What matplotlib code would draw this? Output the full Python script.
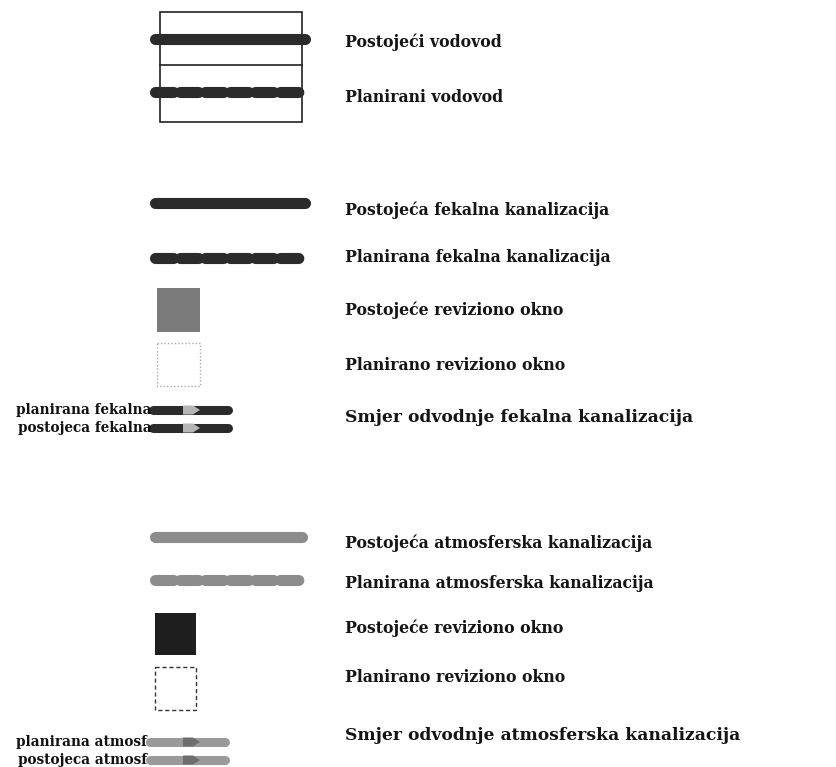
import matplotlib.pyplot as plt
from matplotlib.patches import Rectangle, Polygon

# legend texts
vodovod_labels = ['Postojeći vodovod', 'Planirani vodovod']
fekalna_labels = ['Postojeća fekalna kanalizacija', 'Planirana fekalna kanalizacija',
                  'Postojeće reviziono okno', 'Planirano reviziono okno',
                  'Smjer odvodnje fekalna kanalizacija']
atmosf_labels = ['Postojeća atmosferska kanalizacija', 'Planirana atmosferska kanalizacija',
                 'Postojeće reviziono okno', 'Planirano reviziono okno',
                 'Smjer odvodnje atmosferska kanalizacija']
fekalna_small = ['planirana fekalna', 'postojeca fekalna']
atmosf_small = ['planirana atmosf', 'postojeca atmosf']

DARK = '#2b2b2b'
GREY = '#7a7a7a'
LGREY = '#8c8c8c'

fig = plt.figure(figsize=(8.36, 7.67), dpi=100, facecolor='white')
ax = fig.add_axes([0, 0, 1, 1])
ax.set_xlim(0, 836)
ax.set_ylim(767, 0)
ax.axis('off')

font = dict(family='DejaVu Serif', fontsize=11.3, fontweight='bold', color='#151515',
            va='center', ha='left')
small = dict(family='DejaVu Serif', fontsize=9.8, fontweight='bold', color='#111111',
             va='center', ha='right')


def pipe(y, color, dashed=False, x0=157, x1=302):
    kw = dict(color=color, lw=8, solid_capstyle='round', dash_capstyle='round')
    if dashed:
        kw['linestyle'] = (0, (1.65, 0.6))
    ax.plot([x0, x1], [y, y], **kw)


def arrow_bar(y, color, arrow_color, x0=153, x1=228):
    ax.plot([x0, x1], [y, y], color=color, lw=6.5, solid_capstyle='round', zorder=2)
    ax.add_patch(Polygon([(183, y - 4.5), (193, y - 4.5), (200, y), (193, y + 4.5), (183, y + 4.5)],
                         closed=True, color=arrow_color, lw=0, zorder=3))


# vodovod
ax.add_patch(Rectangle((160, 12), 142, 110, fill=False, ec='#222222', lw=1.2))
ax.plot([160, 302], [65, 65], color='#222222', lw=1.2)
pipe(39, DARK, x0=155, x1=305)
pipe(92, DARK, dashed=True, x0=155, x1=305)
for y, t in zip([42, 97], vodovod_labels):
    ax.text(345, y, t, **font)

# fekalna
pipe(203, DARK, x0=155, x1=305)
pipe(258, DARK, dashed=True, x0=155, x1=305)
ax.add_patch(Rectangle((157, 288), 43, 44, color=GREY, lw=0))
ax.add_patch(Rectangle((157, 343), 43, 43, fill=False, ec='#aaaaaa', lw=1, ls=(0, (1, 1.5))))
arrow_bar(410, DARK, '#b5b5b5')
arrow_bar(428, DARK, '#b5b5b5')
for y, t in zip([210, 258, 310, 365, 418], fekalna_labels):
    ax.text(345, y, t, **dict(font, fontsize=12.3) if t.startswith('Smjer') else font)
for y, t in zip([410, 428], fekalna_small):
    ax.text(152, y, t, **small)

# atmosferska
pipe(537, LGREY, x0=155, x1=302)
pipe(580, LGREY, dashed=True, x0=155, x1=302)
ax.add_patch(Rectangle((155, 613), 41, 42, color='#1e1e1e', lw=0))
ax.add_patch(Rectangle((155, 667), 41, 43, fill=False, ec='#333333', lw=1, ls=(0, (3, 2))))
arrow_bar(742, '#9a9a9a', '#6e6e6e', x0=150, x1=225)
arrow_bar(760, '#9a9a9a', '#6e6e6e', x0=150, x1=225)
for y, t in zip([543, 583, 628, 678, 735], atmosf_labels):
    ax.text(345, y, t, **dict(font, fontsize=12.3) if t.startswith('Smjer') else font)
for y, t in zip([742, 760], atmosf_small):
    ax.text(147, y, t, **small)

fig.savefig('out.png', dpi=100, facecolor='white')
